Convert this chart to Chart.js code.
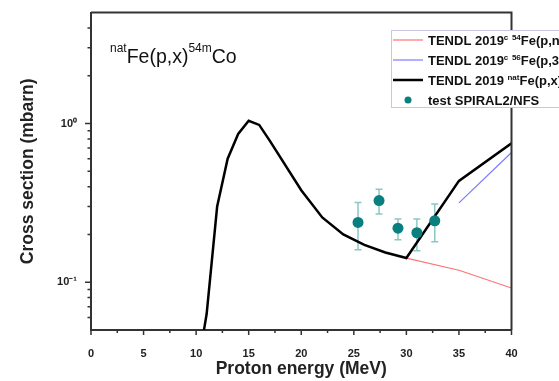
<!DOCTYPE html>
<html>
<head>
<meta charset="utf-8">
<script src="https://cdn.jsdelivr.net/npm/chart.js@4.4.1/dist/chart.umd.min.js"></script>
<style>
    html, body { margin: 0; padding: 0; background: #fff; overflow: hidden; }
    #wrap { width: 559px; height: 381px; }
</style>
</head>
<body>
<div id="wrap"><canvas id="xsChart" width="559" height="381"></canvas></div>
<script>
// TENDL 2019 natFe(p,x)54mCo
var natEnergy = [10.5, 11, 12, 13, 14, 15, 16, 17, 20, 22, 24, 26, 28, 30, 35, 40];
var natXs = [0.04, 0.063, 0.30, 0.60, 0.86, 1.04, 0.98, 0.78, 0.38, 0.256, 0.20, 0.172, 0.154, 0.142, 0.435, 0.75];
// TENDL 2019c 54Fe(p,n)54Co
var fe54Energy = [30, 35, 40];
var fe54Xs = [0.142, 0.119, 0.092];
// TENDL 2019c 56Fe(p,3n)54Co
var fe56Energy = [35, 40];
var fe56Xs = [0.316, 0.657];
// measured points + error bars
var expEnergy = [25.4, 27.4, 29.2, 31.0, 32.7];
var expXs = [0.238, 0.327, 0.219, 0.205, 0.244];
var expLow = [0.16, 0.269, 0.185, 0.158, 0.18];
var expHigh = [0.318, 0.386, 0.25, 0.25, 0.311];

var xMinorTicks = [2.5, 7.5, 12.5, 17.5, 22.5, 27.5, 32.5, 37.5];
var yMajorTicks = [0.1, 1];
var yMajorLabels = ["10\u207B\u00B9", "10\u2070"];
var yMinorTicks = [0.06, 0.07, 0.08, 0.09, 0.2, 0.3, 0.4, 0.5, 0.6, 0.7, 0.8, 0.9, 2, 3, 4];

var titleText = "^{nat}Fe(p,x)^{54m}Co";
var legendOrder = [2, 3, 1, 0];

var fontFamily = "'Liberation Sans', Arial, Helvetica, sans-serif";
Chart.defaults.font.family = fontFamily;
Chart.defaults.color = "#222";

function toPoints(xs, ys) {
    return xs.map((x, i) => ({ x: x, y: ys[i] }));
}

// text with ^{...} superscripts
function drawRich(ctx, text, x, y, size, supSize, weight, raise) {
    var parts = text.split(/\^\{([^}]*)\}/);
    parts.forEach((part, i) => {
        var sup = i % 2 == 1;
        ctx.font = weight + " " + (sup ? supSize : size) + "px " + fontFamily;
        ctx.fillText(part, x, sup ? y - raise : y);
        x += ctx.measureText(part).width;
    });
}

var decorPlugin = {
    id: "decor",
    beforeDatasetsDraw(chart) {
        var ctx = chart.ctx;
        var xs = chart.scales.x, ys = chart.scales.y;
        ctx.save();
        ctx.strokeStyle = "rgba(0,128,128,0.45)";
        ctx.lineWidth = 1.5;
        expEnergy.forEach((e, i) => {
            var px = xs.getPixelForValue(e);
            var top = ys.getPixelForValue(expHigh[i]);
            var bot = ys.getPixelForValue(expLow[i]);
            ctx.beginPath();
            ctx.moveTo(px, top); ctx.lineTo(px, bot);
            ctx.moveTo(px - 3.5, top); ctx.lineTo(px + 3.5, top);
            ctx.moveTo(px - 3.5, bot); ctx.lineTo(px + 3.5, bot);
            ctx.stroke();
        });
        ctx.restore();
    },
    afterDraw(chart) {
        var ctx = chart.ctx;
        var area = chart.chartArea;
        var xs = chart.scales.x, ys = chart.scales.y;
        ctx.save();
        ctx.strokeStyle = "#333";
        ctx.lineWidth = 2;
        // frame top + right
        ctx.beginPath();
        ctx.moveTo(area.left, area.top);
        ctx.lineTo(area.right, area.top);
        ctx.lineTo(area.right, area.bottom);
        ctx.stroke();
        // tick marks
        ctx.lineWidth = 1.5;
        ctx.beginPath();
        xs.ticks.forEach(t => {
            var px = xs.getPixelForValue(t.value);
            ctx.moveTo(px, area.bottom); ctx.lineTo(px, area.bottom + 5);
        });
        xMinorTicks.forEach(v => {
            var px = xs.getPixelForValue(v);
            ctx.moveTo(px, area.bottom); ctx.lineTo(px, area.bottom + 3);
        });
        yMajorTicks.forEach(v => {
            var py = ys.getPixelForValue(v);
            ctx.moveTo(area.left, py); ctx.lineTo(area.left - 6, py);
        });
        yMinorTicks.forEach(v => {
            var py = ys.getPixelForValue(v);
            ctx.moveTo(area.left, py); ctx.lineTo(area.left - 3.5, py);
        });
        ctx.stroke();

        // big label
        ctx.fillStyle = "#111";
        ctx.textBaseline = "alphabetic";
        drawRich(ctx, titleText, 110, 63, 19.5, 12, "normal", 11);

        // legend box, it runs off the right edge
        var lx = 391.5, ly = 30.5;
        ctx.fillStyle = "#fff";
        ctx.fillRect(lx, ly, 200, 77);
        ctx.strokeStyle = "#c8c8e2";
        ctx.lineWidth = 1;
        ctx.strokeRect(lx, ly, 200, 77);
        legendOrder.forEach((di, row) => {
            var ds = chart.data.datasets[di];
            var cy = 40 + row * 20;
            if (ds.showLine === false) {
                ctx.fillStyle = ds.backgroundColor;
                ctx.beginPath();
                ctx.arc(408, cy, 3.5, 0, Math.PI * 2);
                ctx.fill();
            } else {
                ctx.strokeStyle = ds.borderColor;
                ctx.lineWidth = ds.borderWidth;
                ctx.beginPath();
                ctx.moveTo(393, cy); ctx.lineTo(423, cy);
                ctx.stroke();
            }
            ctx.fillStyle = "#111";
            drawRich(ctx, ds.label, 428, cy + 4.5, 13, 8, "bold", 5);
        });
        ctx.restore();
    }
};

const ctx = document.getElementById("xsChart");
new Chart(ctx, {
    type: "line",
    data: {
        datasets: [{
            label: "test SPIRAL2/NFS",
            data: toPoints(expEnergy, expXs),
            showLine: false,
            pointRadius: 5.5,
            backgroundColor: "#0a7f7f",
            borderColor: "#0a7f7f",
            pointBorderWidth: 0
        }, {
            label: "TENDL 2019 ^{nat}Fe(p,x)^{54m}Co",
            data: toPoints(natEnergy, natXs),
            borderColor: "#000",
            borderWidth: 2.5,
            pointRadius: 0,
            tension: 0
        }, {
            label: "TENDL 2019^{c} ^{54}Fe(p,n)^{54}Co",
            data: toPoints(fe54Energy, fe54Xs),
            borderColor: "#ff7373",
            borderWidth: 1.2,
            pointRadius: 0
        }, {
            label: "TENDL 2019^{c} ^{56}Fe(p,3n)^{54}Co",
            data: toPoints(fe56Energy, fe56Xs),
            borderColor: "#7b7bff",
            borderWidth: 1.2,
            pointRadius: 0
        }]
    },
    options: {
        responsive: false,
        animation: false,
        layout: { padding: { top: 12, right: 47.5, left: 0, bottom: 0 } },
        plugins: {
            legend: { display: false },
            tooltip: { enabled: false }
        },
        scales: {
            x: {
                type: "linear",
                min: 0,
                max: 40,
                ticks: { stepSize: 5, padding: 9, font: { size: 11, weight: "bold" } },
                grid: { display: false },
                border: { display: true, color: "#333", width: 2 },
                title: { display: true, text: "Proton energy (MeV)", padding: { top: 0, bottom: 1 }, font: { size: 17.5, weight: "bold" } },
                afterFit(scale) { scale.height = 51; }
            },
            y: {
                type: "logarithmic",
                min: 0.05,
                max: 5,
                afterBuildTicks(scale) {
                    scale.ticks = yMajorTicks.map(v => ({ value: v }));
                },
                ticks: {
                    autoSkip: false,
                    padding: 6,
                    font: { size: 11, weight: "bold" },
                    callback: (value) => {
                        var i = yMajorTicks.indexOf(value);
                        return i >= 0 ? yMajorLabels[i] : "";
                    }
                },
                grid: { display: false },
                border: { display: true, color: "#333", width: 2 },
                title: { display: true, text: "Cross section (mbarn)", padding: { top: 18, bottom: 0 }, font: { size: 17.5, weight: "bold" } },
                afterFit(scale) { scale.width = 91; }
            }
        }
    },
    plugins: [decorPlugin]
});
</script>
</body>
</html>
